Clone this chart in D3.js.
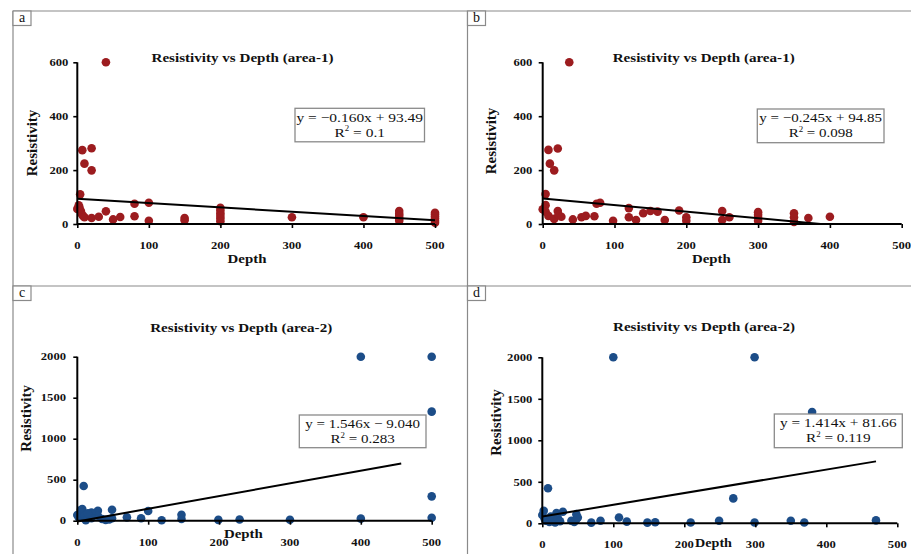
<!DOCTYPE html>
<html>
<head>
<meta charset="utf-8">
<script src="https://cdn.jsdelivr.net/npm/d3@7"></script>
<style>
  html, body { margin: 0; padding: 0; background: #fff; }
  svg { display: block; }
  text { font-family: "Liberation Serif", "Times New Roman", serif; fill: #111; }
</style>
</head>
<body>
<svg id="chart" width="911" height="554"></svg>
<script>
// ---- data ----
const panelLetters = ["a", "b", "c", "d"];
const titles = [
  "Resistivity vs Depth (area-1)",
  "Resistivity vs Depth (area-1)",
  "Resistivity vs Depth (area-2)",
  "Resistivity vs Depth (area-2)"
];

const depthA = [40,7,20,10,20,4,0,2,3,5,6,8,10,20,30,40,50,60,80,80,100,100,150,150,200,200,200,200,200,200,300,400,450,450,450,450,450,500,500,500,500,500,500];
const resA   = [600,274,281,224,199,110,56,69,62,48,38,30,25,22,27,47,17,26,75,29,79,12,22,14,60,50,40,30,20,10,25,25,48,38,30,20,12,42,35,28,20,12,5];

const depthB = [37,8,21,10,16,4,0,4,4,8,16,21,22,26,42,54,60,72,75,80,98,120,120,130,140,150,160,170,190,200,200,250,250,260,300,300,300,300,350,350,350,370,400];
const resB   = [600,275,280,224,199,111,55,70,46,30,19,48,34,27,17,25,30,29,75,79,12,59,25,15,40,48,46,15,50,25,12,48,15,25,44,34,24,12,40,25,8,22,27];

const depthC = [400,500,500,500,500,400,300,229,199,147,147,119,100,90,70,49,49,40,29,29,20,20,9,7,5,0,2,10,12,35,15,45];
const resC   = [2000,2000,1330,297,35,25,12,15,10,72,20,5,118,30,41,134,30,10,122,60,100,30,423,143,130,70,40,60,5,20,90,15];

const depthD = [100,299,380,269,470,369,350,299,249,209,159,148,119,108,82,69,48,48,41,29,20,8,2,0,3,5,10,12,15,18,22,25,45,50];
const resD   = [2000,2000,1340,300,35,10,30,10,30,10,12,8,20,70,30,8,110,50,30,140,125,422,152,100,60,30,15,80,40,10,60,25,15,70];

// linear fits: y = slope * x + intercept
const slopes     = [-0.160, -0.245, 1.546, 1.414];
const intercepts = [93.49, 94.85, -9.040, 81.66];
const rSquared   = [0.1, 0.098, 0.283, 0.119];
const trendFrom  = [0, 0, 0, 0];
const trendTo    = [500, 387, 457, 470];

const xTicks       = [0, 100, 200, 300, 400, 500];
const yTicksArea1  = [0, 200, 400, 600];
const yTicksArea2  = [0, 500, 1000, 1500, 2000];

// ---- layout ----
const RED = "#9c1c1f", BLUE = "#1c4d88";
const SX = 1.18; // horizontal stretch of text glyphs

const layout = [
  { depth: depthA, res: resA, color: RED,  yTicks: yTicksArea1, yMax: 600,
    ax0: 77.3, ax1: 435, ay0: 224, ay1: 62.3, ylabRight: 68.3,
    titleX: 242.5, titleY: 61.7, depthX: 247, depthY: 262.5, resX: 37, resY: 143,
    box: [295, 108.3, 129.5, 33.5], eqSize: 13.1, letterX: 13, letterY: 11 },
  { depth: depthB, res: resB, color: RED,  yTicks: yTicksArea1, yMax: 600,
    ax0: 542.7, ax1: 901.7, ay0: 224, ay1: 62.3, ylabRight: 532.3,
    titleX: 703.7, titleY: 61.7, depthX: 711.3, depthY: 262.5, resX: 496, resY: 141,
    box: [757.3, 109, 126.7, 33.7], eqSize: 12.7, letterX: 467.5, letterY: 11 },
  { depth: depthC, res: resC, color: BLUE, yTicks: yTicksArea2, yMax: 2000,
    ax0: 77.3, ax1: 431.7, ay0: 520.7, ay1: 356.7, ylabRight: 66,
    titleX: 241.2, titleY: 331.5, depthX: 243.3, depthY: 537.5, resX: 31, resY: 418.3,
    box: [299.3, 415, 126.7, 32.7], eqSize: 12.75, letterX: 13, letterY: 286 },
  { depth: depthD, res: resD, color: BLUE, yTicks: yTicksArea2, yMax: 2000,
    ax0: 542.3, ax1: 897.3, ay0: 523.3, ay1: 357.3, ylabRight: 532.3,
    titleX: 704, titleY: 331, depthX: 713.5, depthY: 547, resX: 500.5, resY: 422.5,
    box: [774.3, 414, 128, 33.7], eqSize: 12.95, letterX: 467.5, letterY: 286 }
];

const svg = d3.select("#chart");

// panel frame lines
const frame = svg.append("g").attr("stroke", "#8a8a8a").attr("stroke-width", 1.2).attr("fill", "none");
frame.append("line").attr("x1", 13).attr("y1", 11).attr("x2", 911).attr("y2", 11);
frame.append("line").attr("x1", 13).attr("y1", 286).attr("x2", 911).attr("y2", 286);
frame.append("line").attr("x1", 13).attr("y1", 11).attr("x2", 13).attr("y2", 554);
frame.append("line").attr("x1", 467.5).attr("y1", 11).attr("x2", 467.5).attr("y2", 554);

function stretchedText(g, x, y, str) {
  return g.append("text").attr("transform", `translate(${x},${y}) scale(${SX},1)`).text(str);
}

const fmtSlope = d3.format(".3f");
const fmtInt = d3.format(".4r");

layout.forEach((p, i) => {
  const g = svg.append("g");
  const x = d3.scaleLinear().domain([0, 500]).range([p.ax0, p.ax1]);
  const y = d3.scaleLinear().domain([0, p.yMax]).range([p.ay0, p.ay1]);

  // panel letter tag
  g.append("rect").attr("x", p.letterX).attr("y", p.letterY).attr("width", 18).attr("height", 14.5)
    .attr("fill", "#fff").attr("stroke", "#8a8a8a").attr("stroke-width", 1.2);
  g.append("text").attr("x", p.letterX + 9).attr("y", p.letterY + 11.3)
    .attr("text-anchor", "middle").attr("font-size", 14).text(panelLetters[i]);

  // title
  stretchedText(g, p.titleX, p.titleY, titles[i])
    .attr("text-anchor", "middle").attr("font-weight", "bold").attr("font-size", 12.8);

  // points
  g.append("g").selectAll("circle")
    .data(d3.zip(p.depth, p.res))
    .join("circle")
    .attr("cx", d => x(d[0]))
    .attr("cy", d => y(d[1]))
    .attr("r", 4.3)
    .attr("fill", p.color);

  // axes
  const xAxis = d3.axisBottom(x).tickValues(xTicks).tickSize(4).tickFormat("");
  const yAxis = d3.axisLeft(y).tickValues(p.yTicks).tickSize(4).tickFormat("");
  const gx = g.append("g").attr("transform", `translate(0,${p.ay0})`).call(xAxis);
  const gy = g.append("g").attr("transform", `translate(${p.ax0},0)`).call(yAxis);
  [gx, gy].forEach(a => {
    a.select(".domain").attr("stroke", "#000").attr("stroke-width", 2);
    a.selectAll(".tick line").attr("stroke", "#000").attr("stroke-width", 1.6);
  });
  gx.select(".domain").attr("d", `M${p.ax0},0H${p.ax1}`);
  gy.select(".domain").attr("d", `M0,${p.ay0}V${p.ay1}`);

  // tick labels
  xTicks.forEach(t => {
    stretchedText(g, x(t), p.ay0 + 25, String(t))
      .attr("text-anchor", "middle").attr("font-weight", "bold").attr("font-size", 10.7);
  });
  p.yTicks.forEach(t => {
    stretchedText(g, p.ylabRight, y(t) + 3.7, String(t))
      .attr("text-anchor", "end").attr("font-weight", "bold").attr("font-size", 10.7);
  });

  // axis titles
  stretchedText(g, p.depthX, p.depthY, "Depth")
    .attr("text-anchor", "middle").attr("font-weight", "bold").attr("font-size", i === 3 ? 12 : 12.6);
  g.append("text")
    .attr("transform", `translate(${p.resX},${p.resY}) rotate(-90)`)
    .attr("text-anchor", "middle").attr("font-weight", "bold").attr("font-size", 15)
    .text("Resistivity");

  // linear trend line
  g.append("line")
    .attr("x1", x(trendFrom[i])).attr("y1", y(slopes[i] * trendFrom[i] + intercepts[i]))
    .attr("x2", x(trendTo[i])).attr("y2", y(slopes[i] * trendTo[i] + intercepts[i]))
    .attr("stroke", "#000").attr("stroke-width", 2);

  // equation box
  const [bx, by, bw, bh] = p.box;
  g.append("rect").attr("x", bx).attr("y", by).attr("width", bw).attr("height", bh)
    .attr("fill", "#fff").attr("stroke", "#8a8a8a").attr("stroke-width", 1.3);
  const m = slopes[i], c = intercepts[i];
  const eq = `y = ${m < 0 ? "\u2212" : ""}${fmtSlope(Math.abs(m))}x ${c < 0 ? "\u2212" : "+"} ${fmtInt(Math.abs(c))}`;
  stretchedText(g, bx + bw / 2, by + 13.2, eq)
    .attr("text-anchor", "middle").attr("font-size", p.eqSize);
  const r2 = stretchedText(g, bx + bw / 2, by + 28.4, "")
    .attr("text-anchor", "middle").attr("font-size", p.eqSize);
  r2.append("tspan").text("R");
  r2.append("tspan").attr("font-size", 7.5).attr("dy", -5.5).text("2");
  r2.append("tspan").attr("dy", 5.5).text(" = " + String(rSquared[i]));
});
</script>
</body>
</html>
